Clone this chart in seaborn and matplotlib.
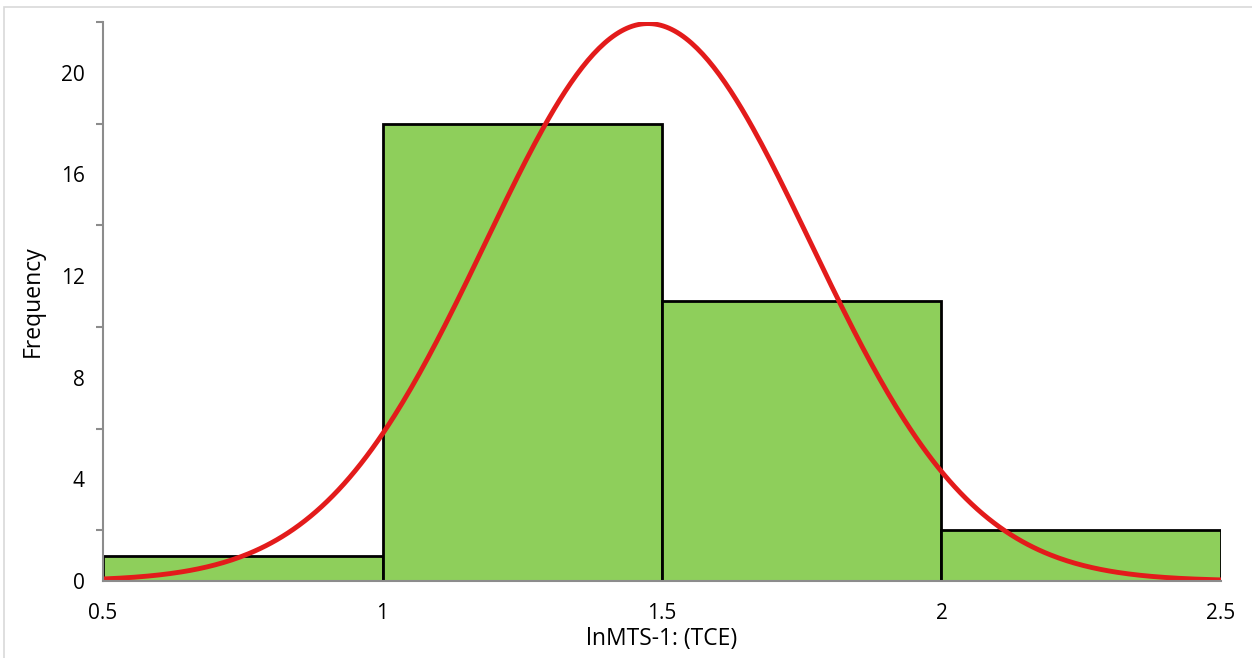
import numpy as np
import pandas as pd
import matplotlib
matplotlib.use("Agg")
import matplotlib.pyplot as plt
from matplotlib.patches import Rectangle
from matplotlib.ticker import MultipleLocator
import seaborn as sns

# Histogram bins and counts
bin_edges = [0.5, 1.0, 1.5, 2.0, 2.5]
counts = [1, 18, 11, 2]

# Fitted normal curve parameters (scaled to counts)
fit_mean = 1.475
fit_sd = 0.291

x_label = "lnMTS-1: (TCE)"
y_label = "Frequency"
x_ticks = [0.5, 1, 1.5, 2, 2.5]
x_tick_labels = ["0.5", "1", "1.5", "2", "2.5"]
y_ticks = [0, 4, 8, 12, 16, 20]

sns.set_theme(style="white")
plt.rcParams["font.family"] = ["Open Sans", "DejaVu Sans"]

fig = plt.figure(figsize=(12.52, 6.58), dpi=100)
ax = fig.add_axes([0.0823, 0.117, 0.8929, 0.8497])

centers = [(a + b) / 2 for a, b in zip(bin_edges[:-1], bin_edges[1:])]
hist_df = pd.DataFrame({"x": centers, "count": counts})
sns.histplot(data=hist_df, x="x", weights="count", bins=bin_edges, ax=ax,
             color="#8ECF5B", alpha=1.0, edgecolor="black", linewidth=2)

n_total = sum(counts)
width = bin_edges[1] - bin_edges[0]
xs = np.linspace(bin_edges[0], bin_edges[-1], 400)
ys = n_total * width * np.exp(-0.5 * ((xs - fit_mean) / fit_sd) ** 2) / (fit_sd * np.sqrt(2 * np.pi))
curve_df = pd.DataFrame({"x": xs, "y": ys})
sns.lineplot(data=curve_df, x="x", y="y", ax=ax, color="#E31B1B", linewidth=3.5)

ax.set_xlim(0.5, 2.5)
ax.set_ylim(0, 22)
ax.set_xticks(x_ticks)
ax.set_xticklabels(x_tick_labels)
ax.set_yticks(y_ticks)
ax.yaxis.set_minor_locator(MultipleLocator(2))

for side in ["top", "right"]:
    ax.spines[side].set_visible(False)
for side in ["left", "bottom"]:
    ax.spines[side].set_color("#8C8C8C")
    ax.spines[side].set_linewidth(1.5)

ax.tick_params(axis="both", which="major", direction="out", length=7, width=1.5,
               color="#8C8C8C", labelsize=15, labelcolor="black", pad=6)
ax.tick_params(axis="y", which="minor", direction="out", length=5, width=1.5,
               color="#8C8C8C", left=True)
ax.tick_params(axis="x", which="major", pad=9)

ax.set_xlabel(x_label, fontsize=16.5, color="black", labelpad=2)
ax.set_ylabel(y_label, fontsize=16.5, color="black", labelpad=12)

fig.patches.append(Rectangle((0.003, -0.05), 1.1, 1.04, transform=fig.transFigure,
                             fill=False, edgecolor="#D9D9D9", linewidth=1.2))

fig.savefig("out.png", dpi=100, facecolor="white")
